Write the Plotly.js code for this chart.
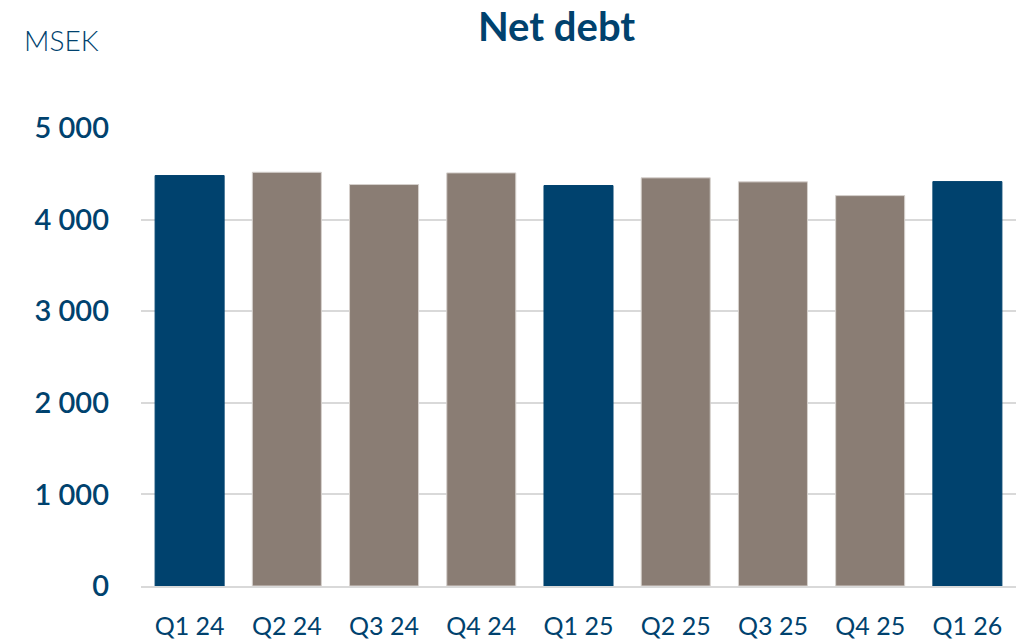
<!DOCTYPE html>
<html><head><meta charset="utf-8">
<script src="https://cdn.plot.ly/plotly-3.0.1.min.js"></script>
<style>html,body{margin:0;padding:0;background:#fff;}#chart{width:1025px;height:642px;}</style>
</head><body><div id="chart"></div>
<script>
const categories = ["Q1 24","Q2 24","Q3 24","Q4 24","Q1 25","Q2 25","Q3 25","Q4 25","Q1 26"];
const netDebt = [4481, 4517, 4383, 4510, 4372, 4456, 4412, 4262, 4415];
const yTickVals = [0, 1000, 2000, 3000, 4000, 5000];
const yTickText = ["0", "1 000", "2 000", "3 000", "4 000", "5 000"];
const navy = "#00426E", gray = "#8A7D74";
const colors = categories.map(c => c.startsWith("Q1") ? navy : gray);
const lineColors = categories.map(c => c.startsWith("Q1") ? navy : "#D6D1CD");

Plotly.newPlot("chart", [{
  type: "bar", x: categories, y: netDebt,
  marker: {color: colors, line: {color: lineColors, width: 1}},
  hoverinfo: "x+y"
}], {
  width: 1025, height: 642,
  margin: {l: 141, r: 9, t: 128, b: 56},
  paper_bgcolor: "#fff", plot_bgcolor: "#fff",
  bargap: 0.29,
  showlegend: false,
  title: {text: "<b>Net debt</b>", x: 0.543, xanchor: "center", y: 0.958, yanchor: "middle",
          font: {family: "Lato, 'Noto Sans', sans-serif", size: 40, color: navy}},
  xaxis: {type: "category", showgrid: false, showline: true, linecolor: "#D9D9D9", linewidth: 2,
          ticks: "", tickfont: {family: "Lato, 'Noto Sans', sans-serif", size: 25, color: navy},
          ticklabelstandoff: 17},
  yaxis: {range: [0, 5000], tickvals: yTickVals, ticktext: yTickText, showgrid: true, gridcolor: "#D9D9D9", gridwidth: 2,
          zeroline: false, showline: false, ticks: "",
          tickfont: {family: "Lato, 'Noto Sans', sans-serif", size: 29, color: navy, weight: 600}, ticklabelstandoff: 31},
  annotations: [{text: "MSEK", xref: "paper", yref: "paper", x: -0.136, y: 1.193, xanchor: "left", yanchor: "middle",
                 showarrow: false, font: {family: "Lato, 'Noto Sans', sans-serif", size: 28, color: navy, weight: 300}}]
}, {displayModeBar: false, staticPlot: true});
</script></body></html>
